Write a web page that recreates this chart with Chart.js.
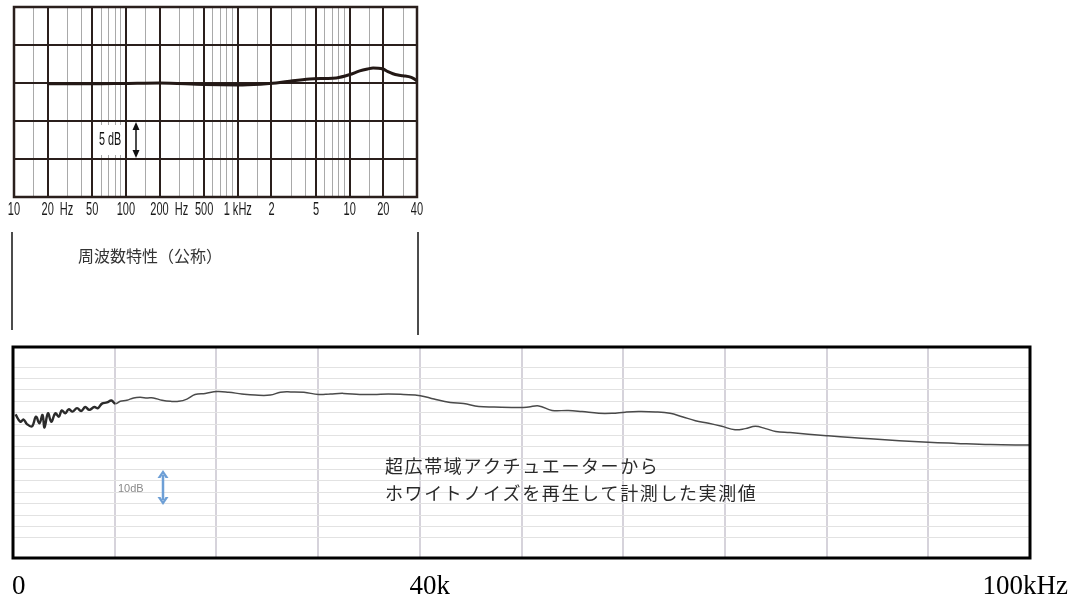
<!DOCTYPE html>
<html>
<head>
<meta charset="utf-8">
<script src="https://cdn.jsdelivr.net/npm/chart.js@4/dist/chart.umd.min.js"></script>
<style>
  html, body { margin: 0; padding: 0; background: #fff; }
  body { width: 1073px; height: 601px; position: relative; overflow: hidden; }
  #topBox { position: absolute; left: 0; top: 0; }
  #bottomBox { position: absolute; left: 0; top: 335px; }
</style>
</head>
<body>
<div id="topBox"><canvas id="topChart" width="430" height="340"></canvas></div>
<div id="bottomBox"><canvas id="bottomChart" width="1073" height="266"></canvas></div>
<script>
// nominal response (top chart): frequency in Hz, level in dB
const topFreq = [20, 50, 100, 200, 500, 1000, 1600, 2200, 3100, 4400, 6000, 7600, 10000, 12300, 14500, 16200, 18000, 19800, 22000, 24400, 27000, 29900, 35600, 39400, 40000];
const topDb = [-0.1, -0.1, -0.05, 0, -0.2, -0.25, -0.15, 0.0, 0.3, 0.53, 0.6, 0.66, 1.1, 1.6, 1.85, 1.97, 1.95, 1.84, 1.5, 1.22, 1.05, 0.96, 0.74, 0.35, 0.25];
const topGrid = [10, 15, 20, 30, 40, 50, 60, 70, 80, 90, 100, 150, 200, 300, 400, 500, 600, 700, 800, 900, 1000, 1500, 2000, 3000, 4000, 5000, 6000, 7000, 8000, 9000, 10000, 15000, 20000, 30000, 40000];
const topMajor = [10, 20, 50, 100, 200, 500, 1000, 2000, 5000, 10000, 20000, 40000];
const topTickLabels = ['10', '20 Hz', '50', '100', '200 Hz', '500', '1 kHz', '2', '5', '10', '20', '40'];

// measured response (bottom chart): frequency in kHz, level in grid units
const bottomKHz = [0.25, 0.72, 1.04, 1.37, 1.87, 2.26, 2.6, 2.9, 3.1, 3.44, 3.77, 4.16, 4.5, 4.8, 5.14, 5.47, 5.86, 6.3, 6.7, 7.1, 7.5, 8.0, 8.35, 8.75, 9.24, 9.67, 10.06, 10.55, 11.2, 11.86, 12.5, 13.2, 13.8, 14.65, 15.5, 16.3, 17.1, 17.9, 18.9, 20.06, 21.2, 22.5, 23.8, 25.3, 26.3, 27.3, 28.6, 30.05, 31.2, 32.5, 34.1, 35.5, 36.9, 38.4, 40.05, 41.4, 43.0, 44.3, 45.8, 47.3, 49.9, 50.7, 51.7, 53.0, 54.6, 55.95, 57.6, 58.9, 60.2, 61.5, 63.2, 64.6, 65.8, 67.1, 68.4, 69.7, 71.0, 72.0, 73.0, 74.0, 75.0, 76.4, 80.0, 84.3, 90.0, 92.8, 96.1, 100];
const bottomLevel = [11.85, 11.2, 11.4, 11.0, 10.8, 11.65, 11.07, 11.8, 10.7, 11.95, 11.2, 11.95, 11.65, 12.2, 11.95, 12.3, 12.1, 12.4, 12.15, 12.5, 12.25, 12.5, 12.4, 12.8, 12.9, 13.07, 12.8, 13.0, 13.1, 13.3, 13.35, 13.3, 13.3, 13.1, 13.0, 13.0, 13.2, 13.6, 13.7, 13.86, 13.8, 13.65, 13.55, 13.55, 13.8, 13.83, 13.8, 13.6, 13.65, 13.7, 13.6, 13.6, 13.65, 13.6, 13.5, 13.2, 12.9, 12.8, 12.55, 12.5, 12.45, 12.5, 12.6, 12.2, 12.2, 12.1, 11.95, 11.95, 12.05, 12.1, 12.07, 11.95, 11.65, 11.3, 11.07, 10.8, 10.5, 10.6, 10.8, 10.6, 10.35, 10.25, 9.98, 9.7, 9.4, 9.3, 9.2, 9.15];
const bottomTickVals = [0, 40, 100];
const bottomTickLabels = ['0', '40k', '100kHz'];

const DARK = '#2a1f1c';
const THIN = '#a9a9a9';

// draw horizontally squeezed text (the scan uses a very narrow face)
function narrowText(ctx, text, x, y, sx, align) {
  ctx.save();
  const w = ctx.measureText(text).width * sx;
  let left = x;
  if (align === 'center') left = x - w / 2;
  if (align === 'right') left = x - w;
  ctx.translate(left, y);
  ctx.scale(sx, 1);
  ctx.textAlign = 'left';
  ctx.fillText(text, 0, 0);
  ctx.restore();
}

const topDeco = {
  id: 'topDeco',
  afterDraw(chart) {
    const { ctx, chartArea: a, scales: { x, y } } = chart;
    ctx.save();
    ctx.strokeStyle = DARK;
    ctx.lineWidth = 2.5;
    ctx.strokeRect(a.left, a.top, a.right - a.left, a.bottom - a.top);

    // 5 dB marker
    ctx.fillStyle = '#fff';
    ctx.fillRect(96, y.getPixelForValue(-5) + 4, 29, y.getPixelForValue(-10) - y.getPixelForValue(-5) - 8);
    ctx.fillStyle = '#111';
    ctx.font = '18px "Liberation Sans", Arial, sans-serif';
    ctx.textBaseline = 'middle';
    narrowText(ctx, '5 dB', 99, (y.getPixelForValue(-5) + y.getPixelForValue(-10)) / 2, 0.6, 'left');
    const ax = 136, y1 = y.getPixelForValue(-5) + 1, y2 = y.getPixelForValue(-10) - 1;
    ctx.strokeStyle = '#111';
    ctx.lineWidth = 1.5;
    ctx.beginPath(); ctx.moveTo(ax, y1 + 4); ctx.lineTo(ax, y2 - 4); ctx.stroke();
    ctx.fillStyle = '#111';
    ctx.beginPath(); ctx.moveTo(ax, y1); ctx.lineTo(ax - 3.5, y1 + 8); ctx.lineTo(ax + 3.5, y1 + 8); ctx.fill();
    ctx.beginPath(); ctx.moveTo(ax, y2); ctx.lineTo(ax - 3.5, y2 - 8); ctx.lineTo(ax + 3.5, y2 - 8); ctx.fill();

    // frequency labels
    ctx.fillStyle = '#1a1a1a';
    ctx.font = '19px "Liberation Sans", Arial, sans-serif';
    ctx.textBaseline = 'middle';
    const ly = a.bottom + 13;
    topMajor.forEach((v, i) => {
      const px = x.getPixelForValue(v);
      const t = topTickLabels[i];
      if (t.endsWith(' Hz') && !t.endsWith('kHz')) {
        const num = t.split(' ')[0];
        const w = ctx.measureText(num).width * 0.58;
        narrowText(ctx, num, px, ly, 0.58, 'center');
        narrowText(ctx, 'Hz', px + w / 2 + 6, ly, 0.58, 'left');
      } else {
        narrowText(ctx, t, px, ly, 0.58, 'center');
      }
    });

    // bracket lines and caption
    ctx.strokeStyle = '#111';
    ctx.lineWidth = 1.5;
    ctx.beginPath(); ctx.moveTo(12, 232); ctx.lineTo(12, 330); ctx.stroke();
    ctx.beginPath(); ctx.moveTo(418, 232); ctx.lineTo(418, 335); ctx.stroke();
    ctx.fillStyle = '#333';
    ctx.font = '16px "Noto Sans CJK JP", sans-serif';
    ctx.textAlign = 'left';
    ctx.fillText('周波数特性（公称）', 78, 256);
    ctx.restore();
  }
};

new Chart(document.getElementById('topChart'), {
  type: 'line',
  data: {
    datasets: [{
      data: topFreq.map((f, i) => ({ x: f, y: topDb[i] })),
      borderColor: '#231815',
      borderWidth: 3,
      pointRadius: 0,
      cubicInterpolationMode: 'monotone',
      fill: false
    }]
  },
  options: {
    responsive: false,
    animation: false,
    layout: { padding: { left: 14, right: 13, top: 7, bottom: 143 } },
    plugins: { legend: { display: false }, tooltip: { enabled: false } },
    scales: {
      x: {
        type: 'logarithmic',
        min: 10,
        max: 40000,
        afterBuildTicks: s => { s.ticks = topGrid.map(v => ({ value: v })); },
        afterFit: s => { s.height = 0; },
        ticks: { display: false },
        border: { display: false },
        grid: {
          drawTicks: false,
          color: c => topMajor.includes(c.tick && c.tick.value) ? DARK : THIN,
          lineWidth: c => topMajor.includes(c.tick && c.tick.value) ? 2 : 1
        }
      },
      y: {
        min: -15,
        max: 10,
        ticks: { display: false, stepSize: 5 },
        afterFit: s => { s.width = 0; },
        border: { display: false },
        grid: { drawTicks: false, color: DARK, lineWidth: 2 }
      }
    }
  },
  plugins: [topDeco]
});

const bottomDeco = {
  id: 'bottomDeco',
  afterDraw(chart) {
    const { ctx, chartArea: a, scales: { x } } = chart;
    ctx.save();
    ctx.strokeStyle = '#000';
    ctx.lineWidth = 3;
    ctx.strokeRect(a.left, a.top, a.right - a.left, a.bottom - a.top);

    // 10 dB marker
    ctx.fillStyle = '#8a8a8a';
    ctx.font = '11px "Liberation Sans", Arial, sans-serif';
    ctx.textBaseline = 'middle';
    ctx.fillText('10dB', 118, 154);
    const bx = 163, t1 = 135, t2 = 170;
    ctx.strokeStyle = '#6d9fd6';
    ctx.fillStyle = '#6d9fd6';
    ctx.lineWidth = 2.5;
    ctx.beginPath(); ctx.moveTo(bx, t1 + 5); ctx.lineTo(bx, t2 - 5); ctx.stroke();
    ctx.beginPath(); ctx.moveTo(bx, t1); ctx.lineTo(bx - 5.5, t1 + 8); ctx.lineTo(bx - 2.5, t1 + 8); ctx.lineTo(bx, t1 + 4); ctx.lineTo(bx + 2.5, t1 + 8); ctx.lineTo(bx + 5.5, t1 + 8); ctx.closePath(); ctx.fill();
    ctx.beginPath(); ctx.moveTo(bx, t2); ctx.lineTo(bx - 5.5, t2 - 8); ctx.lineTo(bx - 2.5, t2 - 8); ctx.lineTo(bx, t2 - 4); ctx.lineTo(bx + 2.5, t2 - 8); ctx.lineTo(bx + 5.5, t2 - 8); ctx.closePath(); ctx.fill();

    // caption
    ctx.fillStyle = '#2a2a2a';
    ctx.font = '18px "Noto Sans CJK JP", sans-serif';
    ctx.letterSpacing = '1.6px';
    ctx.textAlign = 'left';
    ctx.fillText('超広帯域アクチュエーターから', 385, 131);
    ctx.fillText('ホワイトノイズを再生して計測した実測値', 385, 158);
    ctx.letterSpacing = '0px';

    // axis labels
    ctx.fillStyle = '#000';
    ctx.font = '27px "Liberation Serif", "Times New Roman", serif';
    const ly = 252;
    ctx.textAlign = 'left';
    ctx.fillText(bottomTickLabels[0], x.getPixelForValue(bottomTickVals[0]) - 1, ly);
    ctx.textAlign = 'center';
    ctx.fillText(bottomTickLabels[1], x.getPixelForValue(bottomTickVals[1]) + 10, ly);
    ctx.textAlign = 'right';
    ctx.fillText(bottomTickLabels[2], x.getPixelForValue(bottomTickVals[2]) + 38, ly);
    ctx.restore();
  }
};

new Chart(document.getElementById('bottomChart'), {
  type: 'line',
  data: {
    datasets: [{
      data: bottomKHz.map((f, i) => ({ x: f, y: bottomLevel[i] })),
      borderColor: '#3a3a3a',
      borderWidth: 1.5,
      pointRadius: 0,
      tension: 0.4,
      fill: false,
      segment: {
        borderWidth: c => (c.p0.parsed.x < 10 ? 2.4 : 1.5),
        borderColor: c => (c.p0.parsed.x < 10 ? '#2b2b2b' : '#4a4a4a')
      }
    }]
  },
  options: {
    responsive: false,
    animation: false,
    layout: { padding: { left: 13, right: 43, top: 12, bottom: 43 } },
    plugins: { legend: { display: false }, tooltip: { enabled: false } },
    scales: {
      x: {
        type: 'linear',
        min: 0,
        max: 100,
        ticks: { display: false, stepSize: 10 },
        afterFit: s => { s.height = 0; },
        border: { display: false },
        grid: { drawTicks: false, color: '#d6d3db', lineWidth: 2 }
      },
      y: {
        min: -0.78,
        max: 17.78,
        ticks: { display: false, stepSize: 1 },
        afterFit: s => { s.width = 0; },
        border: { display: false },
        grid: { drawTicks: false, color: '#e2e2e2', lineWidth: 1 }
      }
    }
  },
  plugins: [bottomDeco]
});
</script>
</body>
</html>
